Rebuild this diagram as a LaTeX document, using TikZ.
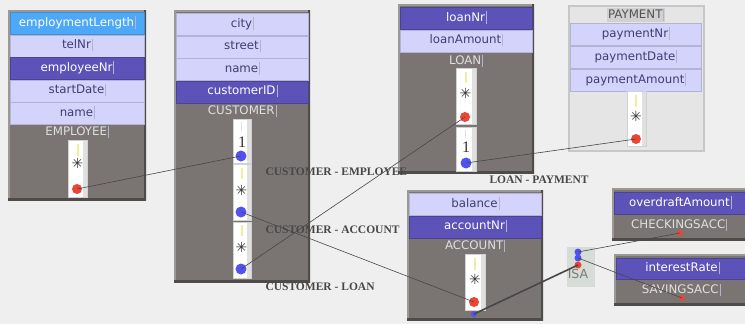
\documentclass[tikz,border=0pt]{standalone}
\usepackage{fontspec}
\setmainfont{Liberation Serif}
\newfontfamily\uifont{DejaVu Sans}
\usepackage{tikz}

\definecolor{canvas}{HTML}{EFEFEF}
\definecolor{bodygray}{HTML}{7A7573}
\definecolor{bodylight}{HTML}{9C9896}
\definecolor{bodydark}{HTML}{4F4B49}
\definecolor{rowlight}{HTML}{D3D3FB}
\definecolor{rowdark}{HTML}{5C52B8}
\definecolor{rowsel}{HTML}{4DA9F7}
\definecolor{navytext}{HTML}{3E3E74}
\definecolor{dotred}{HTML}{EE4433}
\definecolor{dotblue}{HTML}{5252F0}
\definecolor{paygray}{HTML}{E5E5E5}
\definecolor{isagray}{HTML}{D6DCD6}
\definecolor{tickyellow}{HTML}{EEF0A0}
\definecolor{barcol}{HTML}{B4B2CC}

% little text-field cursor after each label
\newcommand\fieldbar{\kern1pt\textcolor{barcol}{\rule[-0.22em]{0.5pt}{1.05em}}}

\begin{document}
\begin{tikzpicture}[x=1pt,y=-1pt,
  entity/.style={anchor=north west,inner sep=0pt,fill=bodygray,
    path picture={
      \draw[bodylight,line width=3pt] (path picture bounding box.south west)
        -- (path picture bounding box.north west) -- (path picture bounding box.north east);
      \draw[bodydark,line width=3.5pt] (path picture bounding box.north east)
        -- (path picture bounding box.south east) -- (path picture bounding box.south west);}},
  attr/.style={anchor=north west,inner sep=0pt,minimum width=132pt,minimum height=22pt,
    text height=0.85em,text depth=0.25em,font=\uifont\fontsize{11.8}{13}\selectfont},
  plain attr/.style={attr,fill=rowlight,draw=rowlight!85!black,line width=0.5pt,text=navytext},
  key attr/.style={attr,fill=rowdark,draw=rowdark!80!black,line width=0.5pt,text=white},
  picked attr/.style={attr,fill=rowsel,draw=rowsel!85!black,line width=0.5pt,text=white},
  ename/.style={font=\uifont\fontsize{11.8}{13}\selectfont,text=white!88!black},
  card/.style={anchor=north west,inner sep=0pt,minimum width=19pt,fill=white,draw=black!18,
    path picture={\fill[black!12] ([xshift=-4pt]path picture bounding box.north east)
      rectangle (path picture bounding box.south east);}},
  many/.style={font=\uifont\fontsize{14}{14}\selectfont,text=black!80},
  one/.style={font=\fontsize{16}{16}\selectfont,text=black!80},
  ytick/.style={tickyellow,line width=2pt},
  gtick/.style={black!12,line width=1.5pt},
  red end/.style={circle,fill=dotred,inner sep=0pt,minimum size=10pt},
  blue end/.style={circle,fill=dotblue,inner sep=0pt,minimum size=11pt},
  rel/.style={anchor=west,font=\fontsize{11.5}{13}\selectfont\bfseries,text=black!72},
  link/.style={draw=black!72,line width=0.6pt}]

  \fill[canvas] (0,0) rectangle (745,324);
  \useasboundingbox (0,0) rectangle (745,324);

  % EMPLOYEE
  \node[entity,minimum width=138pt,minimum height=190pt] (employee) at (8,10) {};
  \node[picked attr,minimum width=134pt] (empLength) at (10,12) {employmentLength\fieldbar};
  \node[plain attr,minimum width=134pt] (empTel) at (10,34.5) {telNr\fieldbar};
  \node[key attr,minimum width=134pt] (empNr) at (10,57) {employeeNr\fieldbar};
  \node[plain attr,minimum width=134pt] (empStart) at (10,79.5) {startDate\fieldbar};
  \node[plain attr,minimum width=134pt] (empName) at (10,102) {name\fieldbar};
  \node[ename] (employeeName) at (77,132) {EMPLOYEE\fieldbar};
  \node[card,minimum height=57pt] (empCard) at (68,140) {};
  \draw[ytick] (78,144) -- (78,156);
  \node[many] (empMany) at (77.5,163) {✳};
  \node[red end] (empDot) at (77,189) {};

  % CUSTOMER
  \node[entity,minimum width=136pt,minimum height=272pt] (customer) at (174,10) {};
  \node[plain attr] (custCity) at (176,13) {city\fieldbar};
  \node[plain attr] (custStreet) at (176,35.5) {street\fieldbar};
  \node[plain attr] (custName) at (176,58) {name\fieldbar};
  \node[key attr] (custID) at (176,80.5) {customerID\fieldbar};
  \node[ename] (customerName) at (242,111) {CUSTOMER\fieldbar};
  \node[card,minimum height=44pt,minimum width=18pt] (custCardA) at (233,119) {};
  \draw[gtick] (241.5,122) -- (241.5,131);
  \node[one] (custOne) at (242,142) {1};
  \node[blue end] (custDotA) at (241,156) {};
  \node[card,minimum height=56pt,minimum width=18pt] (custCardB) at (233,164) {};
  \draw[ytick] (241.5,168) -- (241.5,179);
  \node[many] (custManyB) at (241.5,190) {✳};
  \node[blue end] (custDotB) at (241,212) {};
  \node[card,minimum height=56pt,minimum width=18pt] (custCardC) at (233,222) {};
  \draw[ytick] (241.5,225) -- (241.5,236);
  \node[many] (custManyC) at (241.5,247) {✳};
  \node[blue end] (custDotC) at (241,269) {};

  % LOAN
  \node[entity,minimum width=136pt,minimum height=169pt] (loan) at (398,4) {};
  \node[key attr] (loanNr) at (400,7) {loanNr\fieldbar};
  \node[plain attr] (loanAmount) at (400,29.5) {loanAmount\fieldbar};
  \node[ename] (loanName) at (466,61) {LOAN\fieldbar};
  \node[card,minimum height=56pt,minimum width=20pt] (loanCardA) at (456,68) {};
  \draw[ytick] (465.5,72) -- (465.5,83);
  \node[many] (loanMany) at (465.5,93) {✳};
  \node[red end] (loanDotA) at (465,117) {};
  \node[card,minimum height=44pt,minimum width=20pt] (loanCardB) at (456,127) {};
  \draw[gtick] (465.5,130) -- (465.5,138);
  \node[one] (loanOne) at (466,147) {1};
  \node[blue end] (loanDotB) at (466,163) {};

  % PAYMENT
  \node[anchor=north west,inner sep=0pt,minimum width=135pt,minimum height=145pt,
    fill=paygray,draw=black!22,line width=1.5pt] (payment) at (568,5) {};
  \node[ename,fill=black!18,text=black!68,inner sep=1pt] (paymentName) at (636,15) {PAYMENT\fieldbar};
  \node[plain attr,minimum width=131pt] (payNr) at (570,23) {paymentNr\fieldbar};
  \node[plain attr,minimum width=131pt] (payDate) at (570,46) {paymentDate\fieldbar};
  \node[plain attr,minimum width=131pt] (payAmount) at (570,69) {paymentAmount\fieldbar};
  \node[card,minimum height=55pt] (payCard) at (627,91) {};
  \draw[ytick] (636,95) -- (636,107);
  \node[many] (payMany) at (636,116) {✳};
  \node[red end] (payDot) at (636,139) {};

  % ACCOUNT
  \node[entity,minimum width=136pt,minimum height=130pt] (account) at (407,190) {};
  \node[plain attr] (accBalance) at (409,193) {balance\fieldbar};
  \node[key attr] (accNr) at (409,215.5) {accountNr\fieldbar};
  \node[ename] (accountName) at (475,246) {ACCOUNT\fieldbar};
  \node[card,minimum height=56pt,minimum width=20pt] (accCard) at (465,254) {};
  \draw[ytick] (474.5,258) -- (474.5,270);
  \node[many] (accMany) at (475,279) {✳};
  \node[red end] (accDot) at (474,302) {};
  \node[circle,fill=dotblue,inner sep=0pt,minimum size=6pt] (accDotB) at (474,314) {};

  % ISA
  \node[anchor=north west,inner sep=0pt,minimum width=27pt,minimum height=39pt,
    fill=isagray,draw=black!15,line width=1pt] (isa) at (567,247) {};
  \node[font=\uifont\fontsize{12.5}{12}\selectfont,text=black!52] (isaText) at (578,274) {ISA};
  \node[circle,fill=dotblue,inner sep=0pt,minimum size=7pt] (isaBlueA) at (578,252) {};
  \node[circle,fill=dotblue,inner sep=0pt,minimum size=7pt] (isaBlueB) at (578,258) {};
  \node[circle,fill=dotred,inner sep=0pt,minimum size=7pt] (isaRed) at (578,265) {};

  % CHECKINGSACC, SAVINGSACC
  \node[entity,minimum width=136pt,minimum height=52pt] (checking) at (612,188) {};
  \node[key attr] (checkOver) at (614,192) {overdraftAmount\fieldbar};
  \node[ename] (checkingName) at (679,225) {CHECKINGSACC\fieldbar};
  \node[circle,fill=dotred,inner sep=0pt,minimum size=6pt] (checkDot) at (680,233) {};
  \node[entity,minimum width=136pt,minimum height=51pt] (saving) at (614,254) {};
  \node[key attr,minimum height=21pt] (saveRate) at (616,258) {interestRate\fieldbar};
  \node[ename] (savingName) at (681,290) {SAVINGSACC\fieldbar};
  \node[circle,fill=dotred,inner sep=0pt,minimum size=6pt] (saveDot) at (682,298) {};

  % relationship names
  \node[rel] (relCustEmp) at (262,172) {CUSTOMER - EMPLOYEE};
  \node[rel] (relCustAcc) at (262,230) {CUSTOMER - ACCOUNT};
  \node[rel] (relCustLoan) at (262,287) {CUSTOMER - LOAN};
  \node[rel] (relLoanPay) at (486,180) {LOAN - PAYMENT};

  % connectors
  \draw[link] (empDot.center) -- (custDotA.center);
  \draw[link] (custDotB.center) -- (accDot.center);
  \draw[link] (custDotC.center) -- (loanDotA.center);
  \draw[link] (loanDotB.center) -- (payDot.center);
  \draw[link,line width=1.6pt] (accDotB.center) -- (isaRed.center);
  \draw[link] (isaBlueA.center) -- (checkDot.center);
  \draw[link] (isaBlueB.center) -- (saveDot.center);
\end{tikzpicture}
\end{document}
